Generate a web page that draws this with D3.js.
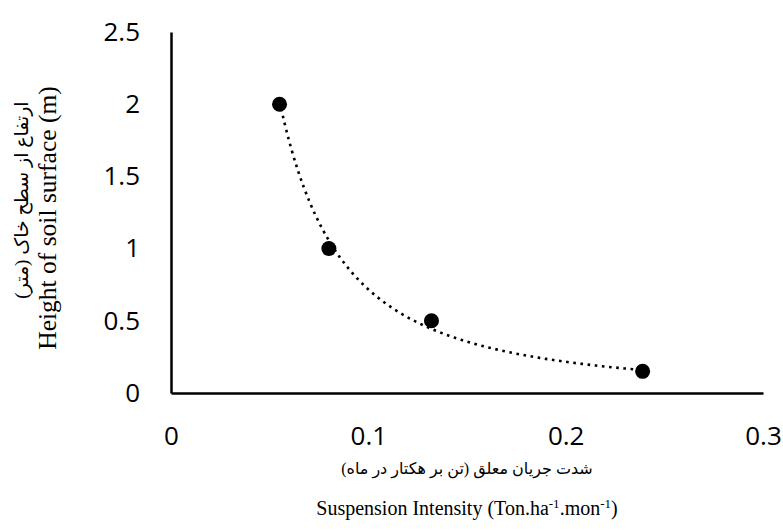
<!DOCTYPE html>
<html>
<head>
<meta charset="utf-8">
<script src="https://cdn.jsdelivr.net/npm/d3@7"></script>
<style>
  body { margin: 0; background: #fff; }
  svg { display: block; }
</style>
</head>
<body>
<div id="chart"></div>
<script>
const width = 783, height = 530;
const margin = { top: 32, right: 20, bottom: 137, left: 171 };

// measured points
const intensity = [0.055, 0.08, 0.132, 0.239];
const heightM = [2, 1, 0.5, 0.15];
const xTicks = [0, 0.1, 0.2, 0.3];
const yTicks = [0, 0.5, 1, 1.5, 2, 2.5];

const x = d3.scaleLinear().domain([0, 0.3]).range([margin.left, width - margin.right]);
const y = d3.scaleLinear().domain([0, 2.5]).range([height - margin.bottom, margin.top]);

const svg = d3.select('#chart').append('svg')
  .attr('width', width)
  .attr('height', height);

const points = intensity.map((v, i) => ({ x: v, y: heightM[i] }));

// power trendline, least squares on log-log (like the Excel one)
const lx = points.map(d => Math.log(d.x)), ly = points.map(d => Math.log(d.y));
const mx = d3.mean(lx), my = d3.mean(ly);
const b = d3.sum(lx, (v, i) => (v - mx) * (ly[i] - my)) / d3.sum(lx, v => (v - mx) * (v - mx));
const a = Math.exp(my - b * mx);
const x0 = d3.min(intensity), x1 = d3.max(intensity);
const trend = d3.range(0, 61).map(i => {
  const xv = x0 + (x1 - x0) * i / 60;
  return { x: xv, y: a * Math.pow(xv, b) };
});

const tickFont = '"Open Sans", "DejaVu Sans", sans-serif';

const xAxis = svg.append('g')
  .attr('transform', `translate(0,${y(0)})`)
  .call(d3.axisBottom(x).tickValues(xTicks).tickSize(0).tickPadding(34).tickFormat(d => d));
const yAxis = svg.append('g')
  .attr('transform', `translate(${x(0)},0)`)
  .call(d3.axisLeft(y).tickValues(yTicks).tickSize(0).tickPadding(31).tickFormat(d => d));

[xAxis, yAxis].forEach(g => {
  g.select('.domain').attr('stroke', '#000').attr('stroke-width', 2.5);
  g.selectAll('text')
    .attr('font-family', tickFont)
    .attr('font-size', 26)
    .attr('fill', '#000');
});

svg.append('path')
  .datum(trend)
  .attr('fill', 'none')
  .attr('stroke', '#000')
  .attr('stroke-width', 2.6)
  .attr('stroke-dasharray', '2.6,4.6')
  .attr('d', d3.line().x(d => x(d.x)).y(d => y(d.y)).curve(d3.curveBasis));

svg.selectAll('circle.pt')
  .data(points)
  .enter().append('circle')
  .attr('class', 'pt')
  .attr('cx', d => x(d.x))
  .attr('cy', d => y(d.y))
  .attr('r', 7.5)
  .attr('fill', '#000');

const serif = '"Liberation Serif", "DejaVu Serif", "DejaVu Sans", serif';
const cx = (x.range()[0] + x.range()[1]) / 2;

svg.append('text')
  .attr('x', cx).attr('y', 474)
  .attr('text-anchor', 'middle')
  .attr('direction', 'rtl')
  .attr('font-family', serif)
  .attr('font-size', 16)
  .text('شدت جریان معلق (تن بر هکتار در ماه)');

const xt = svg.append('text')
  .attr('x', cx).attr('y', 515)
  .attr('text-anchor', 'middle')
  .attr('font-family', serif)
  .attr('font-size', 20);
xt.append('tspan').text('Suspension Intensity (Ton.ha');
xt.append('tspan').attr('dy', -7).attr('font-size', 13).text('-1');
xt.append('tspan').attr('dy', 7).text('.mon');
xt.append('tspan').attr('dy', -7).attr('font-size', 13).text('-1');
xt.append('tspan').attr('dy', 7).text(')');

svg.append('text')
  .attr('transform', 'translate(28,200) rotate(-90)')
  .attr('text-anchor', 'middle')
  .attr('direction', 'rtl')
  .attr('font-family', serif)
  .attr('font-size', 19)
  .text('ارتفاع از سطح خاک (متر)');

svg.append('text')
  .attr('transform', 'translate(56,218) rotate(-90)')
  .attr('text-anchor', 'middle')
  .attr('font-family', serif)
  .attr('font-size', 25.5)
  .text('Height of soil surface (m)');
</script>
</body>
</html>
